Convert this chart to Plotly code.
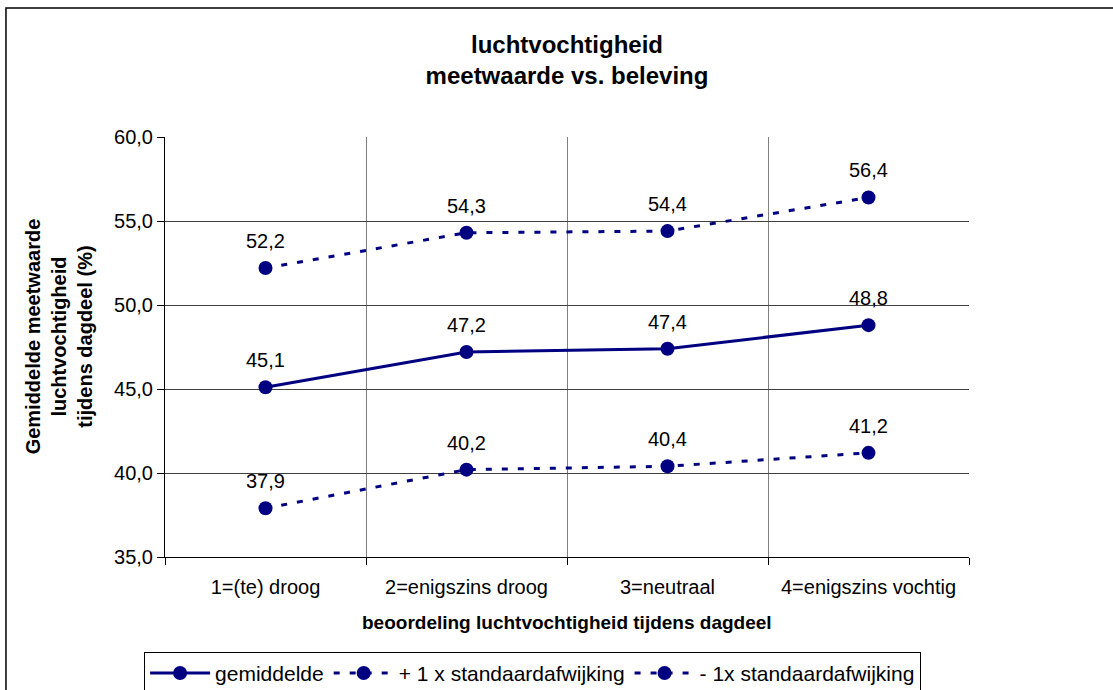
import plotly.graph_objects as go

# Humidity rating categories and measured humidity (%) per category
categories = ["1=(te) droog", "2=enigszins droog", "3=neutraal", "4=enigszins vochtig"]
mean_vals = [45.1, 47.2, 47.4, 48.8]
plus_sd_vals = [52.2, 54.3, 54.4, 56.4]
minus_sd_vals = [37.9, 40.2, 40.4, 41.2]

series_names = ["gemiddelde", "+ 1 x standaardafwijking", "- 1x standaardafwijking"]
y_ticks = [35, 40, 45, 50, 55, 60]

NAVY = "#000080"
FONT = "Liberation Sans, Arial, sans-serif"

x_pos = list(range(len(categories)))

fig = go.Figure()

series = [
    (series_names[0], mean_vals, "solid"),
    (series_names[1], plus_sd_vals, "6px,10px"),
    (series_names[2], minus_sd_vals, "6px,10px"),
]

for name, vals, dash in series:
    fig.add_trace(go.Scatter(
        x=x_pos, y=vals, name=name, mode="lines+markers",
        line=dict(color=NAVY, width=3, dash=dash),
        marker=dict(color=NAVY, size=14, line=dict(width=0)),
        hoverinfo="skip",
    ))
    for xv, yv in zip(x_pos, vals):
        fig.add_annotation(
            x=xv, y=yv, xref="x", yref="y",
            text=f"{yv:.1f}".replace(".", ","),
            showarrow=False, yanchor="middle", yshift=27,
            font=dict(family=FONT, size=20, color="black"),
        )

fig.update_layout(
    width=1113, height=690,
    margin=dict(l=165, r=144, t=137, b=133, autoexpand=False),
    paper_bgcolor="white", plot_bgcolor="white",
    separators=", ",
    font=dict(family=FONT, size=20, color="black"),
    title=dict(
        text="<b>luchtvochtigheid<br>meetwaarde vs. beleving</b>",
        x=0.5, xref="paper", y=1 - 53 / 690, yref="container",
        xanchor="center", yanchor="middle",
        font=dict(family=FONT, size=24, color="black"),
    ),
    showlegend=True,
    legend=dict(
        orientation="h", x=-0.026, xanchor="left", y=-0.226, yanchor="top",
        bordercolor="black", borderwidth=1, bgcolor="white",
        font=dict(family=FONT, size=21, color="black"),
        itemwidth=60,
        itemclick=False, itemdoubleclick=False,
    ),
)

fig.update_xaxes(
    range=[-0.5, len(categories) - 0.5],
    tickvals=x_pos, ticktext=categories,
    ticks="", showgrid=False, zeroline=False,
    showline=True, linecolor="black", linewidth=1,
    tickfont=dict(family=FONT, size=20, color="black"),
    ticklabelstandoff=12,
    minor=dict(tick0=-0.5, dtick=1, showgrid=True, gridcolor="#808080", gridwidth=1,
               ticks="outside", ticklen=7, tickcolor="black", tickwidth=1),
    fixedrange=True,
)

fig.update_yaxes(
    range=[35, 60], tickvals=y_ticks, tickformat=".1f",
    showgrid=True, gridcolor="#404040", gridwidth=1, zeroline=False,
    showline=True, linecolor="black", linewidth=1,
    ticks="outside", ticklen=7, tickcolor="black",
    tickfont=dict(family=FONT, size=20, color="black"),
    fixedrange=True,
)

# axis titles
fig.add_annotation(
    text="<b>beoordeling luchtvochtigheid tijdens dagdeel</b>",
    xref="paper", yref="paper", x=0.5, y=-0.155,
    xanchor="center", yanchor="middle", showarrow=False,
    font=dict(family=FONT, size=19, color="black"),
)
fig.add_annotation(
    text="<b>Gemiddelde meetwaarde<br>luchtvochtigheid<br>tijdens dagdeel (%)</b>",
    xref="paper", yref="paper", x=-0.132, y=0.525,
    xanchor="center", yanchor="middle", showarrow=False, textangle=-90,
    font=dict(family=FONT, size=20, color="black"),
)

# outer chart frame
fig.add_shape(
    type="rect", xref="paper", yref="paper",
    x0=-0.1978, y0=-0.6, x1=1.4, y1=1.307,
    line=dict(color="black", width=1.5), fillcolor="rgba(0,0,0,0)", layer="below",
)

fig.write_html("out.html")
